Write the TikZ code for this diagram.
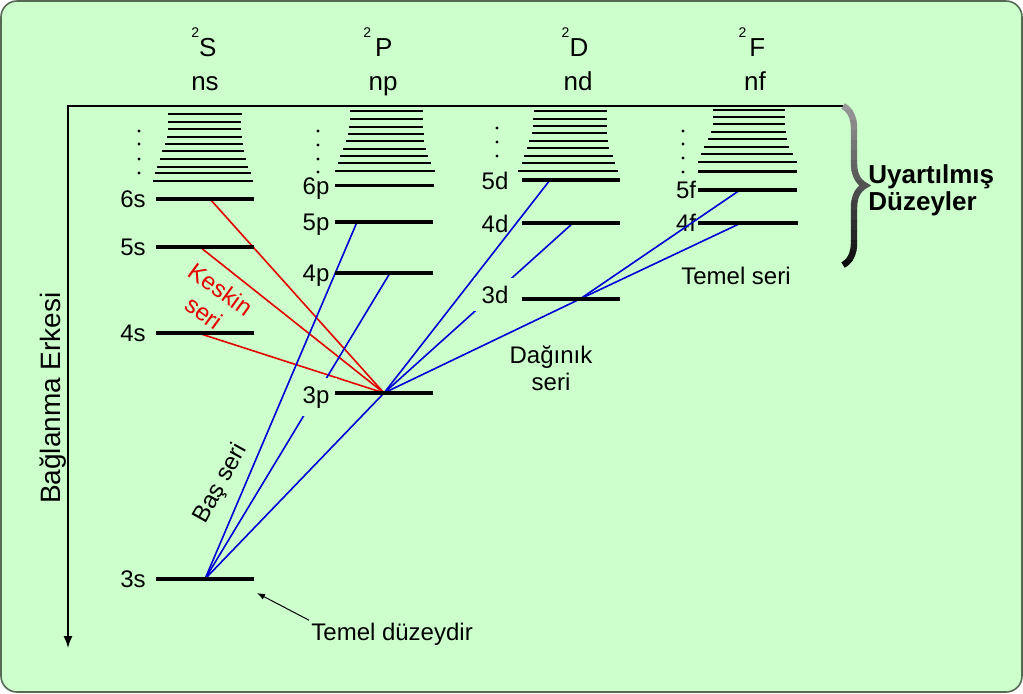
\documentclass[tikz,border=0pt]{standalone}
\usepackage{fontspec}
\setmainfont{Liberation Sans}
\usetikzlibrary{arrows.meta,decorations.pathreplacing}
\definecolor{bg}{RGB}{204,255,204}
\definecolor{frame}{RGB}{85,105,85}
\definecolor{lblue}{RGB}{0,0,215}
\definecolor{lred}{RGB}{228,0,0}
\begin{document}
\begin{tikzpicture}[x=0.5pt,y=-0.5pt,
  lvl/.style={line width=1.75pt},
  stk/.style={line width=1.1pt},
  trb/.style={line width=0.8pt, draw=lblue},
  trr/.style={line width=0.8pt, draw=lred},
  lab/.style={font=\fontsize{12}{14}\selectfont, anchor=base, inner sep=1pt},
  labm/.style={lab, fill=bg, inner sep=4pt},
  hdr/.style={font=\fontsize{13}{14}\selectfont, anchor=base, inner sep=0pt}]
\useasboundingbox (0,0) rectangle (1023,693);
\path[fill=bg, draw=frame, line width=0.8pt, rounded corners=8pt] (1,1) rectangle (1022,692);

% axes
\coordinate (axr) at (843,106);
\coordinate (ax0) at (68,106);
\coordinate (ax1) at (68,648);
\draw[line width=0.8pt, -{Latex[length=6pt,width=4.5pt]}] (axr) -- (ax0) -- (ax1);
\node[font=\fontsize{14}{16}\selectfont, rotate=90] (be) at (53,398) {Bağlanma Erkesi};

% headers
\node[hdr] (hS) at (204,56) {\raisebox{9.5pt}{\fontsize{7}{7}\selectfont 2}S};
\node[hdr] (hP) at (378,56) {\raisebox{9.5pt}{\fontsize{7}{7}\selectfont 2}\hspace{2pt}P};
\node[hdr] (hD) at (575,56) {\raisebox{9.5pt}{\fontsize{7}{7}\selectfont 2}D};
\node[hdr] (hF) at (752,56) {\raisebox{9.5pt}{\fontsize{7}{7}\selectfont 2}\hspace{1.5pt}F};
\node[hdr] (ns) at (205,90) {ns};
\node[hdr] (np) at (383,90) {np};
\node[hdr] (nd) at (578,90) {nd};
\node[hdr] (nf) at (755,90) {nf};

% stacks of upper levels
\foreach \y/\a/\b in {106/168/242,114/168/242,121.7/168/241,129/168/241,136.7/167/242,144/165/243,151.3/162/244,159/160/246,166.7/157/248,173.3/155/251,180.7/153/253}
  \draw[stk] (\a,\y) -- (\b,\y);
\foreach \y/\a/\b in {111.3/350/423,119.3/350/423,126.7/349/423,133.7/348/424,141/346/424,148.7/343/426,156/340/428,163.3/338/431,170.7/335/435}
  \draw[stk] (\a,\y) -- (\b,\y);
\foreach \y/\a/\b in {110.7/534/607,118.7/533/607,126/533/607,133.3/532/607,140.7/529/608,148.3/527/609,155.7/524/613,163.3/522/615,170.7/518/618}
  \draw[stk] (\a,\y) -- (\b,\y);
\foreach \y/\a/\b in {110/713/785,116.7/713/785,124/713/785,131.7/711/786,139/708/787,146.7/704/789,154/701/793,161.7/698/797}
  \draw[stk] (\a,\y) -- (\b,\y);
\draw[line width=1.4pt] (698,171.7) -- (797,171.7);

% dots
\foreach \x/\y in {139/131,139/144,139/159,139/173,318/131,318/145,318/159,318/172,497/128,497/142,497/156,683/131,683/144,683/158,683/172}
  \fill (\x,\y) circle (1.6);

% transition end points
\coordinate (s6) at (210,199);
\coordinate (s5) at (200,247);
\coordinate (s4) at (198,333);
\coordinate (s3) at (205,579);
\coordinate (p5) at (357,222);
\coordinate (p4) at (390,273);
\coordinate (p3) at (384,393);
\coordinate (d5) at (550,180);
\coordinate (d4) at (573,223);
\coordinate (d3) at (580,299);
\coordinate (f5) at (740,190);
\coordinate (f4) at (741,223);

% labels that lines cross over
\node[lab] (l4f) at (686,231.5) {4f};
\node[lab] (l5f) at (686,198.5) {5f};

% transitions
\draw[trr] (p3) -- (s6);
\draw[trr] (p3) -- (s5);
\draw[trr] (p3) -- (s4);
\draw[trb] (s3) -- (p5);
\draw[trb] (s3) -- (p4);
\draw[trb] (s3) -- (p3);
\draw[trb] (p3) -- (d5);
\draw[trb] (p3) -- (d4);
\draw[trb] (p3) -- (d3);
\draw[trb] (d3) -- (f4);
\draw[trb] (d3) -- (f5);

% labels
\node[lab] (l6s) at (133,207.5) {6s};
\node[lab] (l5s) at (133,255.5) {5s};
\node[lab] (l4s) at (133,341.5) {4s};
\node[lab] (l3s) at (133,587.5) {3s};
\node[lab] (l6p) at (316,194) {6p};
\node[lab] (l5p) at (316,230.5) {5p};
\node[lab] (l4p) at (316,281.5) {4p};
\node[labm] (l3p) at (316,403) {3p};
\node[lab] (l5d) at (495,189) {5d};
\node[lab] (l4d) at (495,232) {4d};
\node[labm] (l3d) at (495,303) {3d};

% levels
\foreach \y in {199,247,333,579} \draw[lvl] (156,\y) -- (254,\y);
\draw[lvl] (335,185.7) -- (434,185.7);
\foreach \y in {222,273,393} \draw[lvl] (335,\y) -- (433,\y);
\foreach \y in {180,223,299} \draw[lvl] (522,\y) -- (620,\y);
\draw[lvl] (698,190) -- (797,190);
\draw[lvl] (698,223) -- (798,223);

% series names
\node[font=\fontsize{12}{14.3}\selectfont, text=lred, rotate=-36, inner sep=0pt, align=center] (ks) at (212.5,301) {Keskin\\seri};
\node[font=\fontsize{12}{14}\selectfont, rotate=61, inner sep=0pt] (bas) at (221,484) {Baş seri};
\node[font=\fontsize{12}{13.5}\selectfont, align=center] (dag) at (551,368) {Dağınık\\seri};
\node[font=\fontsize{12}{14}\selectfont] (tem) at (736,276) {Temel seri};

% ground state note
\node[font=\fontsize{12}{14}\selectfont, anchor=base west, inner sep=1pt] (tmd) at (309,640) {Temel düzeydir};
\coordinate (tip) at (257,593);
\draw[line width=0.5pt, -{Latex[length=4pt,width=3pt]}] (tmd.north west) -- (tip);

% brace with gradient
\foreach \i in {0,...,17} {
  \pgfmathtruncatemacro\c{40+60*\i/17}
  \begin{scope}
    \clip (830,{100+10*\i}) rectangle (885,{110+10*\i});
    \draw[decorate, decoration={brace, amplitude=11pt}, line width=3.2pt, draw=black!\c] (843,106) -- (843,265);
  \end{scope}
}
\node[font=\bfseries\fontsize{13}{14}\selectfont, anchor=base west, inner sep=0pt] (u1) at (868,183) {Uyartılmış};
\node[font=\bfseries\fontsize{13}{14}\selectfont, anchor=base west, inner sep=0pt] (u2) at (868,210) {Düzeyler};
\end{tikzpicture}
\end{document}
